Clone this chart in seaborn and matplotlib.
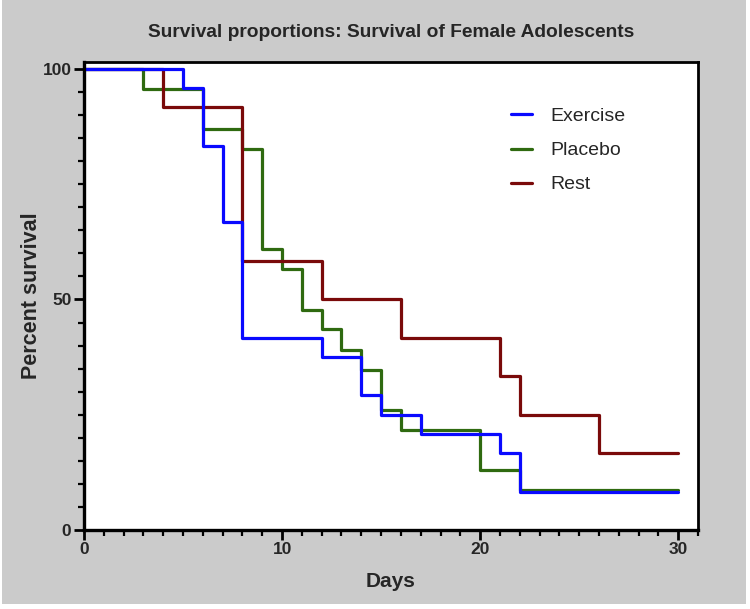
import pandas as pd
import seaborn as sns
import matplotlib.pyplot as plt
from matplotlib import font_manager
from matplotlib.patches import Rectangle
from matplotlib.ticker import MultipleLocator

# step data (percent surviving after each day)
exercise_days = [0, 5, 6, 7, 8, 12, 14, 15, 17, 21, 22, 30]
exercise_surv = [100, 95.8, 83.3, 66.7, 41.7, 37.5, 29.2, 25.0, 20.8, 16.7, 8.3, 8.3]

placebo_days = [0, 3, 6, 8, 9, 10, 11, 12, 13, 14, 15, 16, 20, 22, 30]
placebo_surv = [100, 95.7, 87.0, 82.6, 60.9, 56.5, 47.8, 43.5, 39.1, 34.8, 26.1, 21.7, 13.0, 8.7, 8.7]

rest_days = [0, 4, 8, 12, 16, 21, 22, 26, 30]
rest_surv = [100, 91.7, 58.3, 50.0, 41.7, 33.3, 25.0, 16.7, 16.7]

groups = ["Exercise", "Placebo", "Rest"]
colors = {"Exercise": "#0a0aff", "Placebo": "#2f6a10", "Rest": "#7a0a0a"}

sns.set_style("white")
installed = {f.name for f in font_manager.fontManager.ttflist}
tick_font = "Liberation Sans Narrow" if "Liberation Sans Narrow" in installed else "Liberation Sans"
plt.rcParams["font.family"] = ["Liberation Sans", "DejaVu Sans"]

frames = []
for name, d, s in [("Exercise", exercise_days, exercise_surv),
                   ("Placebo", placebo_days, placebo_surv),
                   ("Rest", rest_days, rest_surv)]:
    frames.append(pd.DataFrame({"Days": d, "Survival": s, "Group": name}))
df = pd.concat(frames, ignore_index=True)

fig = plt.figure(figsize=(7.5, 6.09), dpi=100, facecolor="white")
fig.patches.append(Rectangle((2 / 750, 5 / 609), 744 / 750, 604 / 609,
                             transform=fig.transFigure, facecolor="#cbcbcb",
                             edgecolor="none", zorder=-10))
ax = fig.add_axes([84 / 750, 1 - 530 / 609, (698 - 84) / 750, (530 - 62) / 609])
ax.set_facecolor("white")

# placebo first, exercise last so blue sits on top
for name in ["Placebo", "Rest", "Exercise"]:
    sns.lineplot(data=df[df["Group"] == name], x="Days", y="Survival",
                 estimator=None, drawstyle="steps-post", color=colors[name],
                 linewidth=2.3, ax=ax, label=name)

ax.set_xlim(0, 31)
ax.set_ylim(0, 101.5)
ax.xaxis.set_major_locator(MultipleLocator(10))
ax.xaxis.set_minor_locator(MultipleLocator(1))
ax.yaxis.set_major_locator(MultipleLocator(50))
ax.yaxis.set_minor_locator(MultipleLocator(5))
ax.tick_params(axis="both", which="major", direction="out", length=7, width=2,
               color="black", labelsize=12.5, pad=2, bottom=True, left=True)
ax.tick_params(axis="both", which="minor", direction="out", length=4, width=1.6,
               color="black", bottom=True, left=True)
for lab in ax.get_xticklabels() + ax.get_yticklabels():
    lab.set_fontfamily(tick_font)
    lab.set_fontweight("bold")

for side in ["left", "bottom", "top", "right"]:
    ax.spines[side].set_visible(True)
    ax.spines[side].set_color("black")
ax.spines["left"].set_linewidth(2.4)
ax.spines["bottom"].set_linewidth(2.4)
ax.spines["top"].set_linewidth(2.0)
ax.spines["right"].set_linewidth(2.0)

ax.set_xlabel("Days", fontsize=15, fontweight="bold")
ax.set_ylabel("Percent survival", fontsize=15.5, fontweight="bold")
ax.xaxis.set_label_coords(0.5, -0.09)
ax.yaxis.set_label_coords(-0.068, 0.5)
ax.set_title("Survival proportions: Survival of Female Adolescents",
             fontsize=13.8, fontweight="bold", pad=18)

handles, labels = ax.get_legend_handles_labels()
order = [labels.index(g) for g in groups]
leg = ax.legend([handles[i] for i in order], [labels[i] for i in order],
                loc="upper left", bbox_to_anchor=(0.667, 0.94), frameon=False,
                fontsize=14, handlelength=1.1, handletextpad=0.9,
                labelspacing=0.85)

fig.savefig("out.png", dpi=100, facecolor=fig.get_facecolor())
